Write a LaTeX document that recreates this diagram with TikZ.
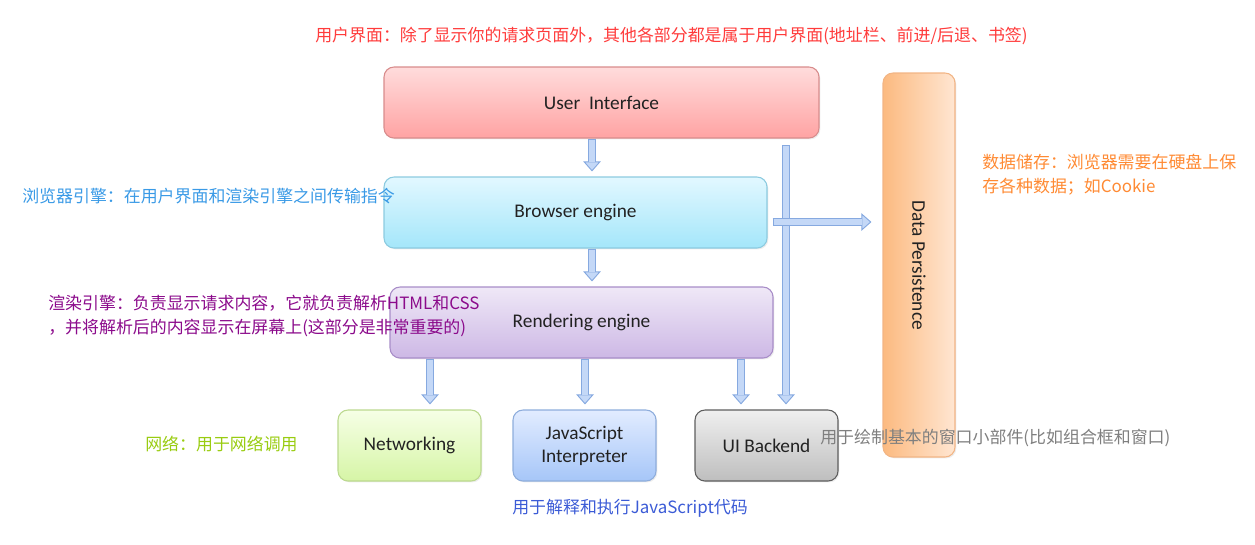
\documentclass[tikz,border=0pt]{standalone}
\usepackage{fontspec}
\setmainfont{Carlito}
\newfontfamily\cjk{Noto Sans CJK SC}
\usetikzlibrary{arrows.meta,shadows,calc}
\definecolor{uiT}{HTML}{FFDCDC}
\definecolor{uiB}{HTML}{FFA3A3}
\definecolor{uiE}{HTML}{D88C8C}
\definecolor{beT}{HTML}{E2F8FF}
\definecolor{beB}{HTML}{A4E6FA}
\definecolor{beE}{HTML}{8CCBE0}
\definecolor{reT}{HTML}{EFE8F7}
\definecolor{reB}{HTML}{CDB8E5}
\definecolor{reE}{HTML}{A88DC8}
\definecolor{nwT}{HTML}{F6FFE6}
\definecolor{nwB}{HTML}{D6F5A6}
\definecolor{nwE}{HTML}{BCD98F}
\definecolor{jsT}{HTML}{E2ECFF}
\definecolor{jsB}{HTML}{A6C6F8}
\definecolor{jsE}{HTML}{8EADDC}
\definecolor{ubT}{HTML}{EFEFEF}
\definecolor{ubB}{HTML}{BEBEBE}
\definecolor{ubE}{HTML}{5E5E5E}
\definecolor{dpD}{HTML}{FCBA80}
\definecolor{dpL}{HTML}{FFE6D2}
\definecolor{dpE}{HTML}{F2B585}
\definecolor{arrF}{HTML}{C4D8F7}
\definecolor{arrE}{HTML}{86A9E0}
\definecolor{lbl}{HTML}{222222}
\definecolor{cRed}{HTML}{FF3B3B}
\definecolor{cBlue}{HTML}{3A9AE6}
\definecolor{cPurple}{HTML}{8B0A8B}
\definecolor{cOrange}{HTML}{FF8A33}
\definecolor{cGreen}{HTML}{99CC11}
\definecolor{cBlueB}{HTML}{3B5BD6}
\definecolor{cGray}{HTML}{7F7F7F}
\begin{document}
\begin{tikzpicture}[x=0.75pt,y=-0.75pt,
  box/.style={rectangle, rounded corners=7.5pt, inner sep=0pt, line width=0.8pt,
    font=\fontsize{14.5}{17.25}\selectfont, text=lbl, align=center,
    drop shadow={opacity=0.15,shadow xshift=1pt,shadow yshift=-1pt}},
  wide/.style={minimum width=287.25pt, minimum height=53.25pt},
  small/.style={minimum width=107.25pt, minimum height=53.25pt},
  note/.style={anchor=west, inner sep=0pt, font=\cjk\fontsize{12.7}{18}\selectfont, align=left},
  blk/.style={draw=arrE, line width=6pt,
    -{Triangle[length=7.5pt,width=13pt,line width=0.7pt,fill=arrF,color=arrE]},
    postaction={draw=arrF, line width=4.4pt, -, shorten >=7.3pt, shorten <=0.8pt}}]
\useasboundingbox (0,0) rectangle (1255,544);

\node[box, draw=uiE, top color=uiT, bottom color=uiB, minimum width=326.25pt, minimum height=53.25pt] (ui) at (601.5,102.5) {User\ \ Interface};
\node[box, wide, draw=beE, top color=beT, bottom color=beB] (be) at (575.5,212.5) {Browser engine};
\node[box, wide, draw=reE, top color=reT, bottom color=reB] (re) at (581.5,322.5) {Rendering engine};
\node[box, small, draw=nwE, top color=nwT, bottom color=nwB] (nw) at (409.5,445.5) {Networking};
\node[box, small, draw=jsE, top color=jsT, bottom color=jsB] (js) at (584.5,445.5) {JavaScript\\Interpreter};
\node[box, small, draw=ubE, top color=ubT, bottom color=ubB] (uib) at (766.5,445.5) {UI Backend};
\node[box, draw=dpE, left color=dpD, right color=dpL, rotate=-90, minimum width=288pt, minimum height=54pt] (dp) at (919,265) {Data Persistence};

\coordinate (xa) at (592,0);
\coordinate (xn) at (430,0);
\coordinate (xj) at (585,0);
\coordinate (xu) at (741,0);
\coordinate (yh) at (0,222);
\coordinate (ls) at (786,145);

\draw[blk] (ui.south -| xa) -- ($(be.north -| xa)+(0,-5)$);
\draw[blk] (be.south -| xa) -- ($(re.north -| xa)+(0,-5)$);
\draw[blk] (re.south -| xn) -- ($(nw.north -| xn)+(0,-5)$);
\draw[blk] (re.south -| xj) -- ($(js.north -| xj)+(0,-5)$);
\draw[blk] (re.south -| xu) -- ($(uib.north -| xu)+(0,-5)$);
\draw[blk] (ls) -- ($(uib.north -| ls)+(0,-5)$);
\draw[blk] ($(be.east |- yh)+(5,0)$) -- ($(dp.south |- yh)+(-11,0)$);

\node[note, text=cRed] (tui) at (315,36) {用户界面：除了显示你的请求页面外，其他各部分都是属于用户界面(地址栏、前进/后退、书签)};
\node[note, text=cBlue] (tbe) at (22,196) {浏览器引擎：在用户界面和渲染引擎之间传输指令};
\node[note, text=cPurple] (tre) at (48,316) {渲染引擎：负责显示请求内容，它就负责解析HTML和CSS\\，并将解析后的内容显示在屏幕上(这部分是非常重要的)};
\node[note, text=cOrange] (tdp) at (982,175) {数据储存：浏览器需要在硬盘上保\\存各种数据；如Cookie};
\node[note, text=cGreen] (tnw) at (145,444) {网络：用于网络调用};
\node[note, text=cBlueB] (tjs) at (512,508) {用于解释和执行JavaScript代码};
\node[note, text=cGray] (tub) at (820,438) {用于绘制基本的窗口小部件(比如组合框和窗口)};
\end{tikzpicture}
\end{document}
